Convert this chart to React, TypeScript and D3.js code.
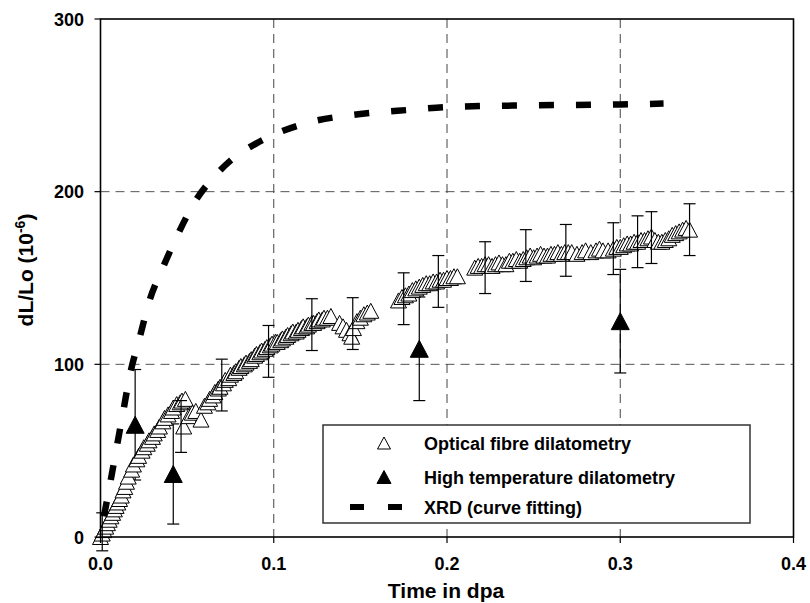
import React from "react";
import * as d3 from "d3";

// ---------- data ----------
const xTicks = [0, 0.1, 0.2, 0.3, 0.4];
const xTickLabels = ["0.0", "0.1", "0.2", "0.3", "0.4"];
const yTicks = [0, 100, 200, 300];
const yTickLabels = ["0", "100", "200", "300"];
const xGrid = [0.1, 0.2, 0.3];
const yGrid = [100, 200];

// Optical fibre dilatometry (open triangles)
const ofX = [
  0.0, 0.001, 0.002, 0.003, 0.004, 0.005, 0.006, 0.007, 0.008, 0.009, 0.01, 0.011, 0.012, 0.013, 0.014, 0.015, 0.016,
  0.018, 0.019, 0.021, 0.022, 0.024, 0.025, 0.027, 0.028, 0.03, 0.031, 0.033, 0.034, 0.036, 0.037, 0.039, 0.041,
  0.042, 0.044, 0.046, 0.047, 0.049, 0.048, 0.051, 0.053, 0.055, 0.058, 0.06, 0.062, 0.063, 0.065, 0.066, 0.068,
  0.069, 0.071, 0.072, 0.074, 0.075, 0.077, 0.078, 0.08, 0.081, 0.083, 0.084, 0.086, 0.087, 0.089, 0.09, 0.092,
  0.093, 0.095, 0.096, 0.098, 0.099, 0.101, 0.102, 0.104, 0.105, 0.107, 0.108, 0.11, 0.111, 0.113, 0.114, 0.116,
  0.117, 0.119, 0.12, 0.122, 0.123, 0.125, 0.126, 0.128, 0.129, 0.131, 0.133,
  0.138, 0.14, 0.142, 0.144, 0.145, 0.146, 0.148, 0.15, 0.152, 0.154, 0.156,
  0.172, 0.174, 0.176, 0.178, 0.18, 0.182, 0.184, 0.186, 0.188, 0.19, 0.192, 0.194, 0.196, 0.198, 0.2, 0.202,
  0.204, 0.206,
  0.216, 0.218, 0.22, 0.222, 0.224, 0.226, 0.228, 0.23, 0.232, 0.234, 0.236, 0.238, 0.24, 0.242, 0.244, 0.246,
  0.248, 0.25, 0.252, 0.254, 0.256, 0.258, 0.26, 0.262, 0.264, 0.266, 0.268, 0.27, 0.272, 0.275, 0.278, 0.28,
  0.283, 0.286, 0.288, 0.29, 0.293, 0.296, 0.298, 0.3, 0.302, 0.304, 0.306, 0.308, 0.31, 0.312, 0.314, 0.316,
  0.318, 0.32, 0.322, 0.324, 0.326, 0.328, 0.33, 0.332, 0.334, 0.336, 0.338, 0.34,
];
const ofY = [
  0, 2, 4, 6, 8, 10, 12, 14, 16, 18, 20, 22, 24, 27, 29, 32, 35,
  39, 42, 45, 47, 50, 52, 54, 56, 58, 60, 62, 64, 67, 69, 71, 73,
  75, 77, 78, 79, 80, 64, 70, 72, 73, 68, 76, 78, 80, 82, 84, 86,
  87, 89, 91, 92, 94, 95, 96, 98, 99, 100, 101, 102, 103, 105, 106, 107,
  108, 109, 110, 111, 112, 113, 113, 114, 115, 116, 117, 118, 119, 119, 120, 121,
  122, 122, 123, 124, 124, 125, 126, 126, 127, 127, 128,
  124, 122, 120, 118, 116, 121, 125, 127, 129, 130, 131,
  137, 139, 140, 141, 143, 144, 145, 146, 147, 147, 148, 148, 149, 149, 150, 150,
  151, 151,
  156, 157, 157, 158, 158, 157, 158, 159, 158, 158, 160, 160, 161, 160, 161, 162,
  163, 162, 163, 164, 163, 163, 164, 164, 165, 164, 165, 165, 165, 164, 165, 166,
  165, 166, 167, 166, 166, 167, 168, 168, 169, 170, 170, 171, 171, 172, 172, 173,
  174, 172, 171, 171, 172, 173, 175, 176, 177, 178, 179, 178,
];
// Optical fibre error bars
const ofErrX = [0.001, 0.0465, 0.07, 0.097, 0.122, 0.1456, 0.175, 0.195, 0.222, 0.2455, 0.2686, 0.296, 0.31, 0.318, 0.34];
const ofErrY = [3, 64, 88, 107.5, 123, 123.6, 138, 148, 156, 163, 166, 167, 171, 173.4, 178];
const ofErr = [11, 15, 15, 15, 15, 15, 15, 15, 15, 15, 15, 15, 15, 15, 15];

// High temperature dilatometry (filled triangles)
const htX = [0.02, 0.042, 0.184, 0.3];
const htY = [65, 36.5, 109, 125];
const htErr = [32, 29, 30, 30];

// XRD (curve fitting)
const xrdX = [0.002, 0.005, 0.009, 0.013, 0.017, 0.0225, 0.028, 0.036, 0.045, 0.055, 0.065, 0.075, 0.09, 0.1, 0.12, 0.15, 0.18, 0.2, 0.25, 0.3, 0.325];
const xrdY = [12, 28, 50, 72, 94, 115, 136, 156, 176, 195, 208, 218, 228, 233, 240, 245, 247.5, 249, 250, 250.5, 251];

const legendItems = ["Optical fibre dilatometry", "High temperature dilatometry", "XRD (curve fitting)"];

// ---------- layout ----------
const W = 810;
const H = 603;
const PL = 100.5;
const PR = 793.5;
const PT = 19;
const PB = 537;
const FONT = "'Liberation Sans', Arial, Helvetica, sans-serif";

function tri(w: number, h: number) {
  return `M0,${-h / 2}L${w / 2},${h / 2}L${-w / 2},${h / 2}Z`;
}

function T(props: { x: number; y: number; size: number; anchor?: string; children: any }) {
  const { x, y, size, anchor = "start", children } = props;
  return (
    <text x={x} y={y} fontFamily={FONT} fontWeight="bold" fontSize={size} textAnchor={anchor} fill="#000">
      {children}
    </text>
  );
}

export default function App() {
  const x = d3.scaleLinear().domain([0, 0.4]).range([PL, PR]);
  const y = d3.scaleLinear().domain([0, 300]).range([PB, PT]);

  const xrdLine = d3
    .line<number>()
    .x((_, i) => x(xrdX[i]))
    .y((d) => y(d))
    .curve(d3.curveMonotoneX)(xrdY) as string;

  const openTri = tri(16, 15);
  const fillTri = tri(18, 17);

  const lgX = 323, lgY = 425, lgW = 427, lgH = 98;
  const rows = [443, 477, 507];

  return (
    <svg width={W} height={H} style={{ position: "absolute", left: 0, top: 0, background: "#fff" }}>
      <rect x={0} y={0} width={W} height={H} fill="#fff" />
      {/* grid */}
      {yGrid.map((v) => (
        <line key={"gy" + v} x1={PL} x2={PR} y1={y(v)} y2={y(v)} stroke="#555" strokeWidth={1} strokeDasharray="9,6" />
      ))}
      {xGrid.map((v) => (
        <line key={"gx" + v} x1={x(v)} x2={x(v)} y1={PT} y2={PB} stroke="#444" strokeWidth={1} strokeDasharray="9,6" />
      ))}

      {/* HT error bars */}
      {htX.map((v, i) => (
        <g key={"he" + i} stroke="#000" strokeWidth={1.2}>
          <line x1={x(v)} x2={x(v)} y1={y(htY[i] - htErr[i])} y2={y(htY[i] + htErr[i])} />
          <line x1={x(v) - 6} x2={x(v) + 6} y1={y(htY[i] - htErr[i])} y2={y(htY[i] - htErr[i])} />
          <line x1={x(v) - 6} x2={x(v) + 6} y1={y(htY[i] + htErr[i])} y2={y(htY[i] + htErr[i])} />
        </g>
      ))}

      {/* optical fibre markers */}
      {ofX.map((v, i) => (
        <path key={"of" + i} d={openTri} transform={`translate(${x(v)},${y(ofY[i])})`} fill="#fff" stroke="#000" strokeWidth={1} />
      ))}

      {/* optical error bars */}
      {ofErrX.map((v, i) => (
        <g key={"oe" + i} stroke="#000" strokeWidth={1.2}>
          <line x1={x(v)} x2={x(v)} y1={y(ofErrY[i] - ofErr[i])} y2={y(ofErrY[i] + ofErr[i])} />
          <line x1={x(v) - 6} x2={x(v) + 6} y1={y(ofErrY[i] - ofErr[i])} y2={y(ofErrY[i] - ofErr[i])} />
          <line x1={x(v) - 6} x2={x(v) + 6} y1={y(ofErrY[i] + ofErr[i])} y2={y(ofErrY[i] + ofErr[i])} />
        </g>
      ))}

      {/* HT markers */}
      {htX.map((v, i) => (
        <path key={"ht" + i} d={fillTri} transform={`translate(${x(v)},${y(htY[i])})`} fill="#000" stroke="#000" strokeWidth={1} />
      ))}

      {/* XRD */}
      <path d={xrdLine} fill="none" stroke="#000" strokeWidth={6.5} strokeDasharray="15,22" />

      {/* frame */}
      <rect x={PL} y={PT} width={PR - PL} height={PB - PT} fill="none" stroke="#000" strokeWidth={1.6} />

      {/* ticks */}
      {yTicks.map((v, i) => (
        <g key={"yt" + v}>
          <line x1={PL - 6} x2={PL} y1={y(v)} y2={y(v)} stroke="#000" strokeWidth={1.2} />
          <T x={84} y={y(v) + 6.5} size={18} anchor="end">
            {yTickLabels[i]}
          </T>
        </g>
      ))}
      {xTicks.map((v, i) => (
        <g key={"xt" + v}>
          <line x1={x(v)} x2={x(v)} y1={PB} y2={PB + 6} stroke="#000" strokeWidth={1.2} />
          <T x={x(v)} y={570} size={18} anchor="middle">
            {xTickLabels[i]}
          </T>
        </g>
      ))}

      {/* axis titles */}
      <T x={446} y={598} size={21} anchor="middle">
        Time in dpa
      </T>
      <text
        transform={`translate(33,270) rotate(-90)`}
        fontFamily={FONT}
        fontWeight="bold"
        fontSize={21}
        textAnchor="middle"
      >
        dL/Lo (10
        <tspan fontSize={14} dy={-8}>
          -6
        </tspan>
        <tspan dy={8}>)</tspan>
      </text>

      {/* legend */}
      <rect x={lgX} y={lgY} width={lgW} height={lgH} fill="#fff" stroke="#333" strokeWidth={1.5} />
      <path d={tri(13, 12)} transform={`translate(384,${rows[0]})`} fill="#fff" stroke="#000" strokeWidth={1} />
      <path d={tri(14, 13)} transform={`translate(384,${rows[1]})`} fill="#000" stroke="#000" strokeWidth={1} />
      <line x1={350} x2={402} y1={rows[2]} y2={rows[2]} stroke="#000" strokeWidth={6} strokeDasharray="14,24" />
      {legendItems.map((t, i) => (
        <T key={"lg" + i} x={424} y={rows[i] + 6.5} size={18}>
          {t}
        </T>
      ))}
    </svg>
  );
}
